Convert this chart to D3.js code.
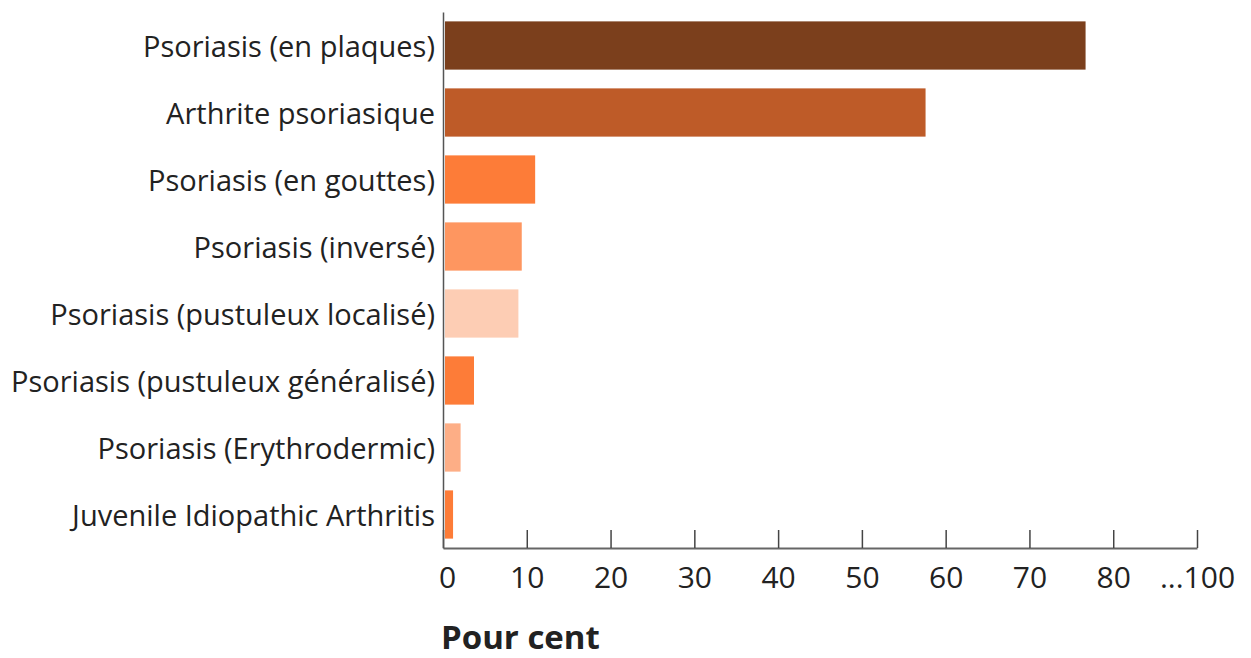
<!DOCTYPE html>
<html>
<head>
<meta charset="utf-8">
<script src="https://cdn.jsdelivr.net/npm/d3@7"></script>
<style>
  body { margin: 0; background: #fff; }
  svg text { font-family: "Open Sans", sans-serif; fill: #222; }
</style>
</head>
<body>
<svg id="chart" width="1251" height="658"></svg>
<script>
const categories = [
  "Psoriasis (en plaques)",
  "Arthrite psoriasique",
  "Psoriasis (en gouttes)",
  "Psoriasis (inversé)",
  "Psoriasis (pustuleux localisé)",
  "Psoriasis (pustuleux généralisé)",
  "Psoriasis (Erythrodermic)",
  "Juvenile Idiopathic Arthritis"
];
const values = [76.7, 57.6, 11.0, 9.4, 9.0, 3.7, 2.1, 1.2];
const barColors = ["#7b3f1c", "#be5b28", "#fd7c38", "#fe9660", "#fdcdb4", "#fd7c38", "#fdae86", "#fd7c38"];
const tickValues = [0, 10, 20, 30, 40, 50, 60, 70, 80, 90];
const tickLabels = ["0", "10", "20", "30", "40", "50", "60", "70", "80", "...100"];
const axisTitle = "Pour cent";

const svg = d3.select("#chart");
const margin = {top: 11, left: 443, right: 54, bottom: 110};
const width = 1251 - margin.left - margin.right,
      height = 658 - margin.top - margin.bottom;

const g = svg.append("g").attr("transform", `translate(${margin.left},${margin.top})`);

const x = d3.scaleLinear().domain([0, 90]).range([0, width]);
const y = d3.scaleBand().domain(categories).range([1, height]).paddingInner(0.28).paddingOuter(0.14);

g.selectAll("rect.bar")
  .data(categories)
  .enter().append("rect")
  .attr("class", "bar")
  .attr("x", x(0) + 2)
  .attr("y", d => y(d))
  .attr("width", (d, i) => x(values[i]) - x(0) - 2)
  .attr("height", y.bandwidth())
  .attr("fill", (d, i) => barColors[i]);

// x axis, ticks pointing up
const xAxis = g.append("g")
  .attr("transform", `translate(0,${height})`)
  .call(d3.axisBottom(x).tickValues(tickValues).tickFormat((d, i) => tickLabels[i]).tickSizeInner(-18).tickSizeOuter(0));
xAxis.select(".domain").attr("stroke", "#666").attr("stroke-width", 2);
xAxis.selectAll(".tick line").attr("stroke", "#444").attr("stroke-width", 1.5);
xAxis.selectAll(".tick text").attr("y", 19).attr("dy", "0.71em").style("font-size", "30px").attr("fill", "#222");
xAxis.selectAll(".tick").filter((d, i) => i === 0).select("text").attr("dx", 4);

// y axis, no ticks
const yAxis = g.append("g")
  .call(d3.axisLeft(y).tickSize(0).tickPadding(8));
yAxis.select(".domain").attr("stroke", "#555").attr("stroke-width", 1.5);
yAxis.selectAll(".tick text").attr("dy", "0.4em").style("font-size", "29px").attr("fill", "#222");

svg.append("text")
  .attr("x", 441)
  .attr("y", 649)
  .style("font-size", "33px")
  .style("font-weight", "bold")
  .text(axisTitle);
</script>
</body>
</html>
